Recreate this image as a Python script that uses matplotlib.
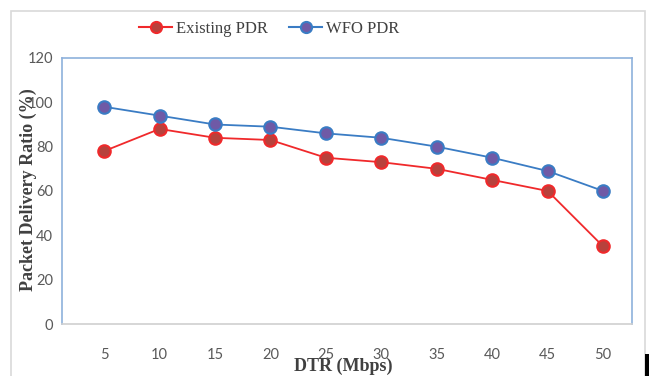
import matplotlib
matplotlib.use("Agg")
import matplotlib.pyplot as plt
from matplotlib.patches import Rectangle
from matplotlib.lines import Line2D

# Data rates (Mbps) and packet delivery ratios (%)
dtr = [5, 10, 15, 20, 25, 30, 35, 40, 45, 50]
existing_pdr = [78, 88, 84, 83, 75, 73, 70, 65, 60, 35]
wfo_pdr = [98, 94, 90, 89, 86, 84, 80, 75, 69, 60]
y_ticks = [0, 20, 40, 60, 80, 100, 120]

W, H = 649, 376
fig = plt.figure(figsize=(W / 100, H / 100), dpi=100)
fig.patch.set_facecolor("white")

# outer chart frame
fig.patches.append(Rectangle((11 / W, -0.05), (645 - 11) / W, (H - 11) / H + 0.05,
                             transform=fig.transFigure, fill=False,
                             edgecolor="#d9d9d9", linewidth=1.2))
fig.patches.append(Rectangle((645 / W, 0), 4 / W, (376 - 354) / H,
                             transform=fig.transFigure, facecolor="black",
                             edgecolor="none"))

left, right, top, bottom = 62, 632, 58, 324
ax = fig.add_axes([left / W, 1 - bottom / H, (right - left) / W, (bottom - top) / H])

red_line = "#f0292b"
red_face = "#b8413c"
blue_line = "#3a7cc4"
blue_face = "#6f5aa6"

ax.plot(dtr, existing_pdr, color=red_line, linewidth=1.3, marker="o",
        markersize=9, markerfacecolor=red_face, markeredgecolor=red_line,
        markeredgewidth=1.5, label="Existing PDR", zorder=3)
ax.plot(dtr, wfo_pdr, color=blue_line, linewidth=1.3, marker="o",
        markersize=9, markerfacecolor=blue_face, markeredgecolor=blue_line,
        markeredgewidth=1.5, label="WFO PDR", zorder=3)

ax.set_xlim(1.2, 52.6)
ax.set_ylim(0, 120)
ax.set_xticks(dtr)
ax.set_yticks(y_ticks)

tick_font = dict(family=["Lato", "DejaVu Sans"], size=10.5)
ax.set_xticklabels([str(v) for v in dtr], color="#595959", **tick_font)
ax.set_yticklabels([str(v) for v in y_ticks], color="#595959", **tick_font)
ax.tick_params(axis="both", length=0)
ax.tick_params(axis="x", pad=17)
ax.tick_params(axis="y", pad=6.5)

for side in ("left", "top", "right"):
    ax.spines[side].set_color("#8eb1dc")
    ax.spines[side].set_linewidth(1.2)
ax.spines["bottom"].set_color("#d0d0d0")
ax.spines["bottom"].set_linewidth(1.2)

label_font = dict(family=["Liberation Serif", "DejaVu Serif"], size=13,
                  weight="bold", color="#404040")
fig.text(343 / W, 1 - 366 / H, "DTR (Mbps)", ha="center", va="center", **label_font)
fig.text(28 / W, 1 - 190 / H, "Packet Delivery Ratio (%)", ha="center",
         va="center", rotation=90, **label_font)

handles = [
    Line2D([0], [0], color=red_line, linewidth=1.5, marker="o", markersize=8,
           markerfacecolor=red_face, markeredgecolor=red_line, markeredgewidth=1.5),
    Line2D([0], [0], color=blue_line, linewidth=1.5, marker="o", markersize=8,
           markerfacecolor=blue_face, markeredgecolor=blue_line, markeredgewidth=1.5),
]
leg = fig.legend(handles, ["Existing PDR", "WFO PDR"], loc="center",
                 bbox_to_anchor=(269 / W, 1 - 29 / H), ncol=2, frameon=False,
                 handlelength=2.0, handletextpad=0.2, columnspacing=1.3,
                 prop=dict(family=["Liberation Serif", "DejaVu Serif"], size=12))
for t in leg.get_texts():
    t.set_color("#404040")

fig.savefig("out.png", dpi=100, facecolor="white")
